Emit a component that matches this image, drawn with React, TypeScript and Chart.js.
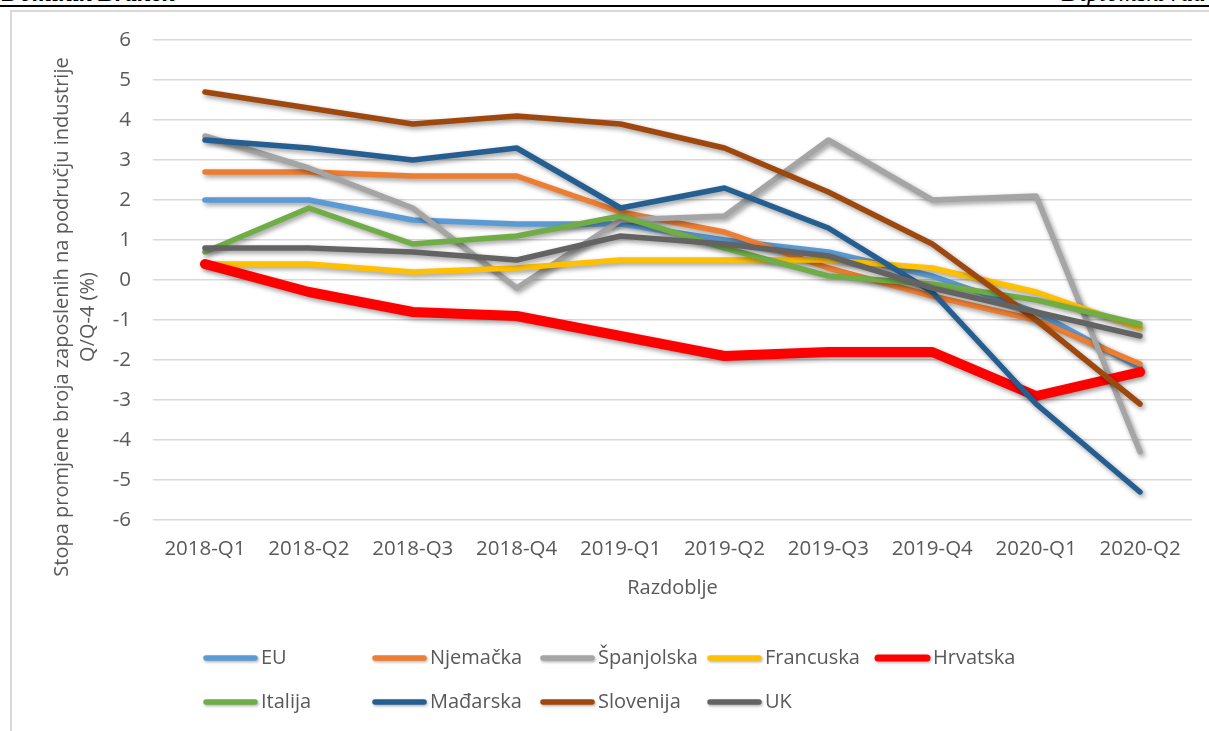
import React, { useEffect, useRef } from 'react';
import { Chart, registerables } from 'chart.js';

Chart.register(...registerables);

const categories = ['2018-Q1', '2018-Q2', '2018-Q3', '2018-Q4', '2019-Q1', '2019-Q2', '2019-Q3', '2019-Q4', '2020-Q1', '2020-Q2'];

const EU = [2.0, 2.0, 1.5, 1.4, 1.4, 1.0, 0.7, 0.1, -0.8, -2.2];
const Njemacka = [2.7, 2.7, 2.6, 2.6, 1.7, 1.2, 0.3, -0.4, -1.0, -2.1];
const Spanjolska = [3.6, 2.8, 1.8, -0.2, 1.5, 1.6, 3.5, 2.0, 2.1, -4.3];
const Francuska = [0.4, 0.4, 0.2, 0.3, 0.5, 0.5, 0.5, 0.3, -0.3, -1.2];
const Hrvatska = [0.4, -0.3, -0.8, -0.9, -1.4, -1.9, -1.8, -1.8, -2.9, -2.3];
const Italija = [0.7, 1.8, 0.9, 1.1, 1.6, 0.8, 0.1, -0.1, -0.5, -1.1];
const Madarska = [3.5, 3.3, 3.0, 3.3, 1.8, 2.3, 1.3, -0.3, -3.1, -5.3];
const Slovenija = [4.7, 4.3, 3.9, 4.1, 3.9, 3.3, 2.2, 0.9, -1.0, -3.1];
const UK = [0.8, 0.8, 0.7, 0.5, 1.1, 0.9, 0.6, -0.2, -0.8, -1.4];

const seriesNames = ['EU', 'Njemačka', 'Španjolska', 'Francuska', 'Hrvatska', 'Italija', 'Mađarska', 'Slovenija', 'UK'];
const seriesValues = [EU, Njemacka, Spanjolska, Francuska, Hrvatska, Italija, Madarska, Slovenija, UK];
const seriesColors = ['#5B9BD5', '#ED7D31', '#A5A5A5', '#FFC000', '#FF0000', '#70AD47', '#255E91', '#9E480E', '#636363'];
const seriesWidths = [5.5, 5.5, 5.5, 5.5, 10, 5.5, 5.5, 5.5, 5.5];

const yTickMin = -6;
const yTickMax = 6;
const yTickStep = 1;

const yTitleLines = ['Stopa promjene broja zaposlenih na području industrije', 'Q/Q-4 (%)'];
const xTitle = 'Razdoblje';
const headerLeft = 'Dominik Branek';
const headerRight = 'Diplomski rad';

const FONT = "'Open Sans', 'Noto Sans', sans-serif";
const TEXT_COLOR = '#595959';

// layout constants
const W = 1209;
const H = 731;
const legendCols = [203, 372, 540, 707, 875];
const legendRows = [658, 702];
const legendLineLen = 55;

const shadowPlugin = {
  id: 'lineShadow',
  beforeDatasetDraw(chart: any) {
    const ctx = chart.ctx;
    ctx.save();
    ctx.shadowColor = 'rgba(0,0,0,0.4)';
    ctx.shadowBlur = 5;
    ctx.shadowOffsetX = 2;
    ctx.shadowOffsetY = 2.5;
  },
  afterDatasetDraw(chart: any) {
    chart.ctx.restore();
  },
};

const extrasPlugin = {
  id: 'figureExtras',
  afterDraw(chart: any) {
    const ctx = chart.ctx;
    // y-axis title (two lines, rotated)
    ctx.save();
    ctx.fillStyle = TEXT_COLOR;
    ctx.font = `20px ${FONT}`;
    ctx.textAlign = 'center';
    ctx.textBaseline = 'middle';
    const xs = [62, 88];
    yTitleLines.forEach((line, i) => {
      ctx.save();
      ctx.translate(xs[i], 317);
      ctx.rotate(-Math.PI / 2);
      ctx.fillText(line, 0, 0);
      ctx.restore();
    });
    ctx.restore();

    // legend
    chart.data.datasets.forEach((ds: any, i: number) => {
      const row = Math.floor(i / 5);
      const col = i % 5;
      const x0 = legendCols[col];
      const y = legendRows[row];
      ctx.save();
      ctx.shadowColor = 'rgba(0,0,0,0.3)';
      ctx.shadowBlur = 3;
      ctx.shadowOffsetX = 1;
      ctx.shadowOffsetY = 1.5;
      ctx.strokeStyle = ds.borderColor;
      ctx.lineWidth = Math.min(ds.borderWidth, 7);
      ctx.lineCap = 'round';
      ctx.beginPath();
      ctx.moveTo(x0 + 3, y);
      ctx.lineTo(x0 + legendLineLen - 3, y);
      ctx.stroke();
      ctx.restore();
      ctx.save();
      ctx.fillStyle = TEXT_COLOR;
      ctx.font = `20px ${FONT}`;
      ctx.textAlign = 'left';
      ctx.textBaseline = 'middle';
      ctx.fillText(ds.label, x0 + legendLineLen + 3, y);
      ctx.restore();
    });
  },
};

export default function App() {
  const ref = useRef<HTMLCanvasElement | null>(null);

  useEffect(() => {
    if (!ref.current) return;
    const n = seriesNames.length;
    const chart = new Chart(ref.current, {
      type: 'line',
      data: {
        labels: categories,
        datasets: seriesNames.map((name, i) => ({
          label: name,
          data: seriesValues[i],
          borderColor: seriesColors[i],
          backgroundColor: seriesColors[i],
          borderWidth: seriesWidths[i],
          pointRadius: 0,
          pointHoverRadius: 0,
          tension: 0,
          fill: false,
          borderCapStyle: 'round',
          borderJoinStyle: 'round',
          order: n - i,
        })),
      },
      options: {
        responsive: false,
        animation: false,
        events: [],
        layout: { padding: { left: 0, right: W - 1192, top: 40, bottom: 0 } },
        plugins: {
          legend: { display: false },
          tooltip: { enabled: false },
          title: { display: false },
        },
        scales: {
          x: {
            type: 'category',
            offset: true,
            grid: { display: false, drawTicks: false },
            border: { display: false },
            ticks: {
              color: TEXT_COLOR,
              font: { family: FONT, size: 20.5 },
              padding: 17,
              maxRotation: 0,
              autoSkip: false,
            },
            title: {
              display: true,
              text: xTitle,
              color: TEXT_COLOR,
              font: { family: FONT, size: 20, lineHeight: 1.2 },
              padding: { top: 0, bottom: 131 },
            },
            afterFit(scale: any) {
              scale.height = H - 520;
            },
          },
          y: {
            min: yTickMin,
            max: yTickMax,
            grid: { color: '#d9d9d9', lineWidth: 1.5, drawTicks: false },
            border: { display: false },
            ticks: {
              stepSize: yTickStep,
              color: TEXT_COLOR,
              font: { family: FONT, size: 20.5 },
              padding: 22,
            },
            afterFit(scale: any) {
              scale.width = 153;
            },
          },
        },
      },
      plugins: [shadowPlugin, extrasPlugin],
    } as any);
    return () => chart.destroy();
  }, []);

  return (
    <div style={{ position: 'absolute', left: 0, top: 0, width: W, height: H, overflow: 'hidden', background: '#fff' }}>
      <div style={{ position: 'absolute', left: 2, top: -20, font: `italic bold 25px 'Liberation Serif', serif`, color: '#000', whiteSpace: 'nowrap', lineHeight: '26px' }}>{headerLeft}</div>
      <div style={{ position: 'absolute', left: 1062, top: -20, font: `italic 25px 'Liberation Serif', serif`, color: '#000', whiteSpace: 'nowrap', lineHeight: '26px' }}>{headerRight}</div>
      <div style={{ position: 'absolute', left: 0, top: 5, width: W, height: 2, background: '#000' }} />
      <div style={{ position: 'absolute', left: 10, top: 10, width: W + 20, height: H + 20, border: '2px solid #d9d9d9', boxSizing: 'border-box' }} />
      <canvas ref={ref} width={W} height={H} style={{ position: 'absolute', left: 0, top: 0, width: W, height: H, display: 'block' }} />
    </div>
  );
}
